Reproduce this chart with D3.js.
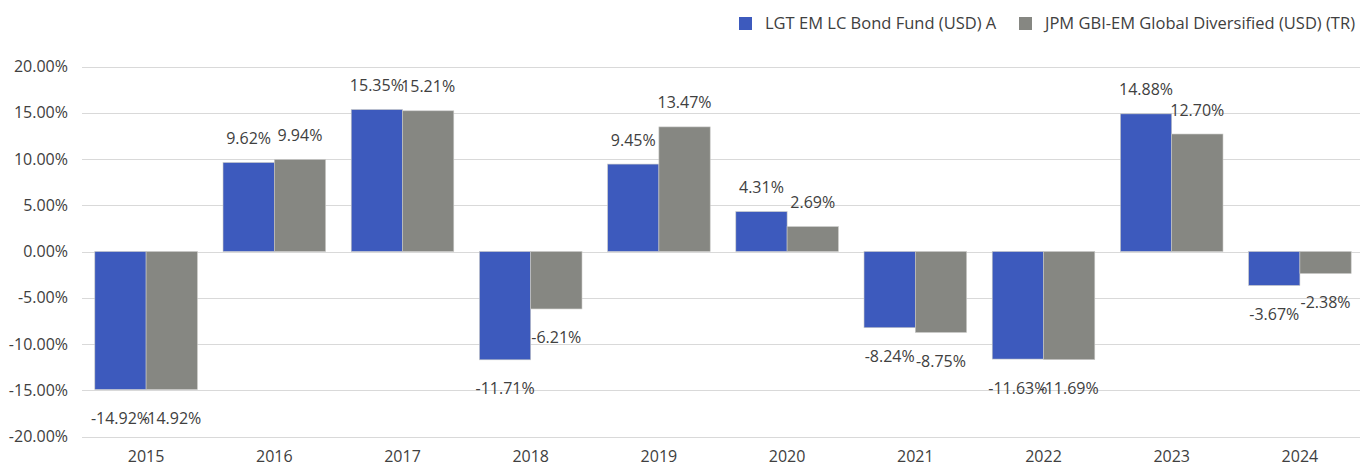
<!DOCTYPE html>
<html>
<head>
<meta charset="utf-8">
<script src="https://cdn.jsdelivr.net/npm/d3@7"></script>
<style>
  body { margin: 0; background: #fff; }
  svg text { font-family: "Open Sans", "Noto Sans", sans-serif; fill: #404040; }
</style>
</head>
<body>
<div id="chart"></div>
<script>
// data
const years = ["2015", "2016", "2017", "2018", "2019", "2020", "2021", "2022", "2023", "2024"];
const seriesNames = ["LGT EM LC Bond Fund (USD) A", "JPM GBI-EM Global Diversified (USD) (TR)"];
const fundValues = [-14.92, 9.62, 15.35, -11.71, 9.45, 4.31, -8.24, -11.63, 14.88, -3.67];
const benchValues = [-14.92, 9.94, 15.21, -6.21, 13.47, 2.69, -8.75, -11.69, 12.70, -2.38];
const yTicks = [-20, -15, -10, -5, 0, 5, 10, 15, 20];

const colors = ["#3d5abd", "#868782"];

const width = 1360, height = 468;
const margin = {top: 66.5, right: 0, bottom: 31.5, left: 82};

// plain hyphen instead of d3's unicode minus
const pct = v => (v < 0 ? "-" : "") + Math.abs(v).toFixed(2) + "%";

const svg = d3.select("#chart").append("svg")
  .attr("width", width)
  .attr("height", height);

const y = d3.scaleLinear()
  .domain([-20, 20])
  .range([height - margin.bottom, margin.top]);

const x0 = d3.scaleBand()
  .domain(years)
  .range([margin.left, 1364])
  .paddingInner(0.2)
  .paddingOuter(0.1);

const x1 = d3.scaleBand()
  .domain([0, 1])
  .range([0, x0.bandwidth()]);

// grid lines
svg.append("g")
  .selectAll("line")
  .data(yTicks)
  .join("line")
  .attr("x1", margin.left)
  .attr("x2", 1360)
  .attr("y1", d => Math.round(y(d)) + 0.5)
  .attr("y2", d => Math.round(y(d)) + 0.5)
  .attr("stroke", "#d9d9d9")
  .attr("stroke-width", 1);

// y axis labels
const yAxis = d3.axisLeft(y)
  .tickValues(yTicks)
  .tickSize(0)
  .tickPadding(0)
  .tickFormat(pct);

svg.append("g")
  .attr("transform", "translate(68,0)")
  .call(yAxis)
  .call(g => g.select(".domain").remove())
  .selectAll("text")
  .attr("font-size", 16)
  .attr("font-family", null);

// x axis labels
const xAxis = d3.axisBottom(x0).tickSize(0).tickPadding(0);
svg.append("g")
  .attr("transform", "translate(0,451)")
  .call(xAxis)
  .call(g => g.select(".domain").remove())
  .selectAll("text")
  .attr("font-size", 16)
  .attr("font-family", null);

const rows = years.map((yr, i) => ({year: yr, values: [fundValues[i], benchValues[i]]}));

const groups = svg.append("g")
  .selectAll("g")
  .data(rows)
  .join("g")
  .attr("transform", d => "translate(" + x0(d.year) + ",0)");

groups.selectAll("rect")
  .data(d => d.values.map((v, k) => ({v, k})))
  .join("rect")
  .attr("x", d => x1(d.k))
  .attr("y", d => y(Math.max(0, d.v)))
  .attr("width", x1.bandwidth())
  .attr("height", d => Math.abs(y(d.v) - y(0)))
  .attr("fill", d => colors[d.k])
  .attr("stroke", "#c8c9c6")
  .attr("stroke-width", 0.6);

// value labels
groups.selectAll("text.val")
  .data(d => d.values.map((v, k) => ({v, k})))
  .join("text")
  .attr("class", "val")
  .attr("x", d => x1(d.k) + x1.bandwidth() / 2)
  .attr("y", d => d.v >= 0 ? y(d.v) - 18.5 : y(d.v) + 34.5)
  .attr("text-anchor", "middle")
  .attr("font-size", 16)
  .text(d => pct(d.v));

// legend
const legendX = [739, 1019];
const legend = svg.append("g")
  .selectAll("g")
  .data(seriesNames)
  .join("g")
  .attr("transform", (d, i) => "translate(" + legendX[i] + ",17)");

legend.append("rect")
  .attr("width", 13)
  .attr("height", 13)
  .attr("fill", (d, i) => colors[i]);

legend.append("text")
  .attr("x", 26)
  .attr("y", 12)
  .attr("font-size", 16.5)
  .text(d => d);
</script>
</body>
</html>
